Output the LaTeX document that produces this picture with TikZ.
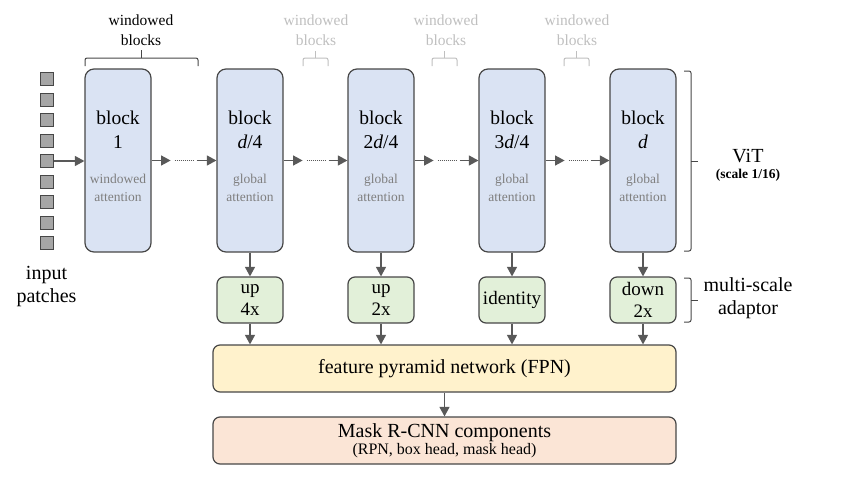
\documentclass[tikz,border=0pt]{standalone}
\usepackage{fontspec}
\setmainfont{Liberation Serif}
\usetikzlibrary{arrows.meta,positioning,calc}

\definecolor{blkfill}{HTML}{DAE3F3}
\definecolor{adpfill}{HTML}{E2F0D9}
\definecolor{fpnfill}{HTML}{FFF2CC}
\definecolor{maskfill}{HTML}{FBE5D6}
\definecolor{edgegray}{HTML}{474747}
\definecolor{arrgray}{HTML}{595959}
\definecolor{softgray}{HTML}{BFBFBF}
\definecolor{attgray}{HTML}{7F7F7F}

\tikzset{
  patch/.style={draw=edgegray,fill=black!35,line width=1pt,minimum size=13pt,inner sep=0pt},
  block/.style={draw=edgegray,fill=blkfill,line width=1.2pt,rounded corners=9pt,
                minimum width=66pt,minimum height=183pt,inner sep=0pt},
  adaptor/.style={draw=edgegray,fill=adpfill,line width=1.2pt,rounded corners=7pt,
                  minimum width=66pt,minimum height=46pt,inner sep=0pt,align=center,
                  font=\fontsize{19}{22}\selectfont},
  widebox/.style={draw=edgegray,line width=1.2pt,rounded corners=7pt,
                  minimum width=463pt,minimum height=47pt,inner sep=0pt,align=center},
  blktxt/.style={anchor=base,inner sep=0pt,font=\fontsize{19.5}{22}\selectfont},
  atttxt/.style={anchor=base,inner sep=0pt,text=attgray,font=\fontsize{13.5}{16}\selectfont},
  bigtxt/.style={align=center,inner sep=0pt,font=\fontsize{20}{23}\selectfont},
  toptxt/.style={align=center,inner sep=0pt,font=\fontsize{15.5}{20}\selectfont},
  arr/.style={draw=arrgray,line width=1.2pt,-{Triangle[length=9.5pt,width=10pt]}},
  dots/.style={draw=arrgray,line width=0.8pt,dash pattern=on 1pt off 1pt},
  brk/.style={draw,line width=1pt,rounded corners=2pt}
}

\begin{document}
\begin{tikzpicture}[x=1pt,y=-1pt]
  \useasboundingbox (0,0) rectangle (868,477);

  % input patches
  \begin{scope}[every node/.style={patch}]
    \node (p1) at (46.5,79)    {};
    \node (p2) at (46.5,99.5)  {};
    \node (p3) at (46.5,120)   {};
    \node (p4) at (46.5,140.5) {};
    \node (p5) at (46.5,161)   {};
    \node (p6) at (46.5,181.5) {};
    \node (p7) at (46.5,202)   {};
    \node (p8) at (46.5,222.5) {};
    \node (p9) at (46.5,243)   {};
  \end{scope}
  \node[bigtxt] (inp) at (46.5,287) {input\\patches};

  % ViT blocks
  \begin{scope}[every node/.style={block}]
    \node (b1) at (118,160.5) {};
    \node (b2) at (250,160.5) {};
    \node (b3) at (381,160.5) {};
    \node (b4) at (512,160.5) {};
    \node (b5) at (643,160.5) {};
  \end{scope}

  \begin{scope}[every node/.style={blktxt}]
    \node (b1n) at (118,124) {block};
    \node (b1i) at (118,148) {1};
    \node (b2n) at (250,124) {block};
    \node (b2i) at (250,148) {\textit{d}/4};
    \node (b3n) at (381,124) {block};
    \node (b3i) at (381,148) {2\textit{d}/4};
    \node (b4n) at (512,124) {block};
    \node (b4i) at (512,148) {3\textit{d}/4};
    \node (b5n) at (643,124) {block};
    \node (b5i) at (643,148) {\textit{d}};
  \end{scope}

  \begin{scope}[every node/.style={atttxt}]
    \node (b1k) at (118,183) {windowed};
    \node (b1a) at (118,201) {attention};
    \node (b2k) at (250,183) {global};
    \node (b2a) at (250,201) {attention};
    \node (b3k) at (381,183) {global};
    \node (b3a) at (381,201) {attention};
    \node (b4k) at (512,183) {global};
    \node (b4a) at (512,201) {attention};
    \node (b5k) at (643,183) {global};
    \node (b5a) at (643,201) {attention};
  \end{scope}

  % windowed blocks brackets
  \node[toptxt] (w1) at (141,30) {windowed\\blocks};
  \begin{scope}[every node/.style={toptxt,text=softgray}]
    \node (w2) at (316,30) {windowed\\blocks};
    \node (w3) at (446,30) {windowed\\blocks};
    \node (w4) at (577,30) {windowed\\blocks};
  \end{scope}
  \draw[brk,edgegray] (85,66) -- (85,58) -- (198,58) -- (198,66);
  \draw[edgegray,line width=1pt] (141.5,58) -- (141.5,50);
  \draw[brk,softgray] (303,66) -- (303,58) -- (328,58) -- (328,66);
  \draw[softgray,line width=1pt] (315.5,58) -- (315.5,51);
  \draw[brk,softgray] (432,66) -- (432,58) -- (457,58) -- (457,66);
  \draw[softgray,line width=1pt] (444.5,58) -- (444.5,51);
  \draw[brk,softgray] (564,66) -- (564,58) -- (589,58) -- (589,66);
  \draw[softgray,line width=1pt] (576.5,58) -- (576.5,51);

  % multi-scale adaptor
  \node[adaptor] (a1) at (250,300) {up\\4x};
  \node[adaptor] (a2) at (381,300) {up\\2x};
  \node[adaptor] (a3) at (512,300) {identity};
  \node[adaptor] (a4) at (643,300) {down\\2x};

  \node[widebox,fill=fpnfill,font=\fontsize{20}{23}\selectfont] (fpn) at (444.5,368.5)
    {feature pyramid network (FPN)};
  \node[widebox,fill=maskfill,font=\fontsize{20}{17}\selectfont] (mask) at (444.5,440.5)
    {Mask R-CNN components\\{\fontsize{16}{17}\selectfont (RPN, box head, mask head)}};

  % right side brackets
  \draw[brk,edgegray] (684,71) -- (691,71) -- (691,251) -- (684,251);
  \draw[edgegray,line width=1pt] (691,161) -- (698,161);
  \draw[brk,edgegray] (684,278) -- (691,278) -- (691,322) -- (684,322);
  \draw[edgegray,line width=1pt] (691,300) -- (698,300);
  \node[bigtxt] (vit) at (748,156) {ViT};
  \node[inner sep=0pt,font=\bfseries\fontsize{13.5}{15}\selectfont] (vits) at (748,175) {(scale 1/16)};
  \node[bigtxt] (msa) at (748,298) {multi-scale\\adaptor};

  % connectors
  \draw[arr] (p5) -- (b1.west |- p5);
  \draw[arr] (b1.east) -- ++(19,0) coordinate (s1);
  \draw[dots] ($(b1.east)+(23,0)$) -- ($(b1.east)+(42,0)$);
  \draw[arr] ($(b1.east)+(45,0)$) -- (b2.west);
  \draw[arr] (b2.east) -- ++(19,0) coordinate (s2);
  \draw[dots] ($(b2.east)+(23,0)$) -- ($(b2.east)+(42,0)$);
  \draw[arr] ($(b2.east)+(45,0)$) -- (b3.west);
  \draw[arr] (b3.east) -- ++(19,0) coordinate (s3);
  \draw[dots] ($(b3.east)+(23,0)$) -- ($(b3.east)+(42,0)$);
  \draw[arr] ($(b3.east)+(45,0)$) -- (b4.west);
  \draw[arr] (b4.east) -- ++(19,0) coordinate (s4);
  \draw[dots] ($(b4.east)+(23,0)$) -- ($(b4.east)+(42,0)$);
  \draw[arr] ($(b4.east)+(45,0)$) -- (b5.west);

  \draw[arr] (b2) -- (a1);
  \draw[arr] (b3) -- (a2);
  \draw[arr] (b4) -- (a3);
  \draw[arr] (b5) -- (a4);
  \draw[arr] (a1) -- (a1 |- fpn.north);
  \draw[arr] (a2) -- (a2 |- fpn.north);
  \draw[arr] (a3) -- (a3 |- fpn.north);
  \draw[arr] (a4) -- (a4 |- fpn.north);
  \draw[arr] (fpn) -- (mask);

\end{tikzpicture}
\end{document}
